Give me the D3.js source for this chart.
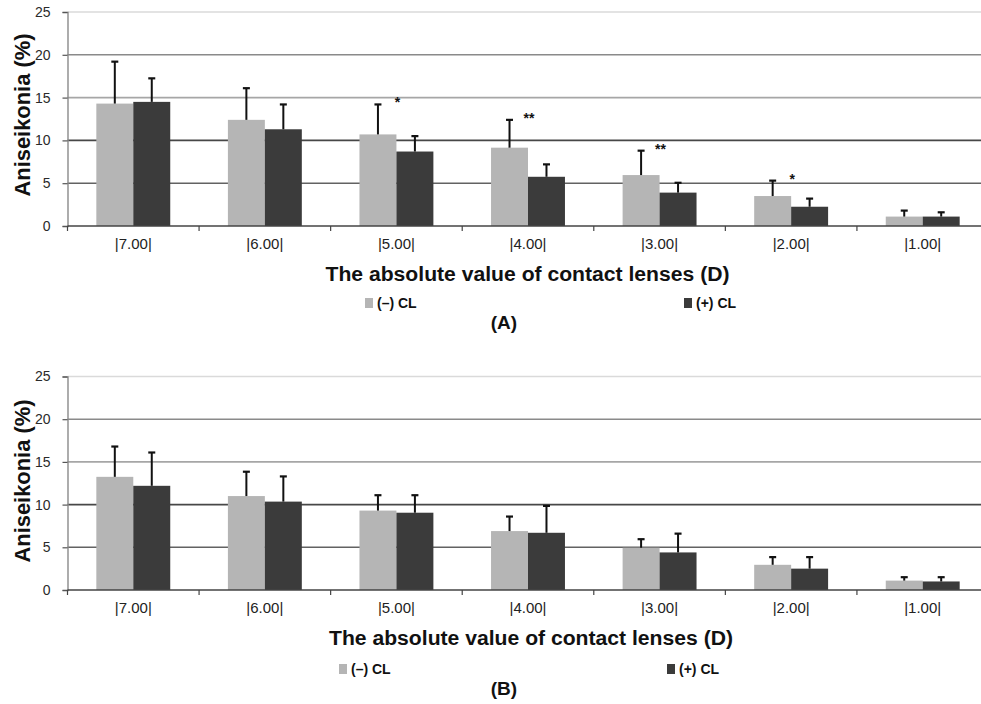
<!DOCTYPE html>
<html>
<head>
<meta charset="utf-8">
<script src="https://cdn.jsdelivr.net/npm/d3@7"></script>
<style>
  html, body { margin: 0; padding: 0; background: #fff; }
  svg { display: block; font-family: "Liberation Sans", Arial, sans-serif; }
</style>
</head>
<body>
<svg id="chart" width="981" height="704"></svg>
<script>
// ---------- data ----------
const categories = ["|7.00|", "|6.00|", "|5.00|", "|4.00|", "|3.00|", "|2.00|", "|1.00|"];
const seriesNames = ["(–) CL", "(+) CL"];
const yTicks = [0, 5, 10, 15, 20, 25];

// Panel A
const minusA   = [14.3, 12.4, 10.7, 9.15, 5.95, 3.5, 1.1];
const minusAsd = [4.9, 3.7, 3.5, 3.25, 2.85, 1.8, 0.7];
const plusA    = [14.5, 11.3, 8.7, 5.75, 3.9, 2.25, 1.1];
const plusAsd  = [2.75, 2.9, 1.8, 1.45, 1.15, 0.95, 0.5];
const sigA     = ["", "", "*", "**", "**", "*", ""];

// Panel B
const minusB   = [13.25, 11.0, 9.3, 6.9, 4.95, 2.95, 1.1];
const minusBsd = [3.55, 2.85, 1.8, 1.7, 1.0, 0.9, 0.4];
const plusB    = [12.2, 10.35, 9.05, 6.7, 4.4, 2.5, 1.0];
const plusBsd  = [3.9, 2.95, 2.05, 3.15, 2.2, 1.35, 0.5];
const sigB     = ["", "", "", "", "", "", ""];

const xTitle = "The absolute value of contact lenses (D)";
const yTitle = "Aniseikonia (%)";

// ---------- styles ----------
const colors = ["#b5b5b5", "#3b3b3b"];
const gridColor = {5: "#626262", 10: "#474747", 15: "#a6a6a6", 20: "#8a8a8a", 25: "#dadada"};

const svg = d3.select("#chart");

const x = d3.scaleBand().domain(categories).range([67.5, 988.5]).padding(0);
const xs = d3.scaleBand().domain(seriesNames).range([0, x.bandwidth()]).paddingInner(0).paddingOuter(0.78);

function drawPanel(cfg) {
  const y = d3.scaleLinear().domain([0, 25]).range([cfg.y0, cfg.y25]);
  const g = svg.append("g");

  // gridlines
  g.selectAll("line.grid").data(yTicks.filter(t => t > 0)).join("line")
    .attr("x1", 67.5).attr("x2", 981)
    .attr("y1", d => y(d)).attr("y2", d => y(d))
    .attr("stroke", d => gridColor[d]).attr("stroke-width", 1.6);

  // y axis
  const ya = g.append("g").attr("transform", "translate(67.5,0)")
    .call(d3.axisLeft(y).tickValues(yTicks).tickSize(5).tickPadding(12));
  ya.select(".domain").attr("stroke", "#8a8a8a").attr("stroke-width", 1.4);
  ya.selectAll(".tick line").attr("stroke", "#555").attr("stroke-width", 1.2);
  ya.selectAll(".tick text").attr("font-size", 14).attr("fill", "#2a2a2a")
    .attr("font-family", "'Liberation Sans', Arial, sans-serif");

  // bars
  const series = [
    {name: seriesNames[0], vals: cfg.minus, sd: cfg.minusSd, color: colors[0]},
    {name: seriesNames[1], vals: cfg.plus, sd: cfg.plusSd, color: colors[1]}
  ];
  series.forEach(s => {
    const recs = categories.map((c, i) => ({c, v: s.vals[i], sd: s.sd[i]}));
    g.selectAll(null).data(recs).join("rect")
      .attr("x", d => x(d.c) + xs(s.name))
      .attr("y", d => y(d.v))
      .attr("width", xs.bandwidth())
      .attr("height", d => y(0) - y(d.v))
      .attr("fill", s.color);
    // error bars
    const cx = d => x(d.c) + xs(s.name) + xs.bandwidth() / 2;
    g.selectAll(null).data(recs).join("line")
      .attr("x1", cx).attr("x2", cx)
      .attr("y1", d => y(d.v)).attr("y2", d => y(d.v + d.sd))
      .attr("stroke", "#111").attr("stroke-width", 2);
    g.selectAll(null).data(recs).join("line")
      .attr("x1", d => cx(d) - 3.5).attr("x2", d => cx(d) + 3.5)
      .attr("y1", d => y(d.v + d.sd)).attr("y2", d => y(d.v + d.sd))
      .attr("stroke", "#111").attr("stroke-width", 2.2);
  });

  // significance marks
  const sigRecs = categories.map((c, i) => ({c, s: cfg.sig[i],
    top: Math.max(cfg.minus[i] + cfg.minusSd[i], cfg.plus[i] + cfg.plusSd[i])}));
  g.selectAll(null).data(sigRecs.filter(d => d.s)).join("text")
    .attr("x", d => x(d.c) + x.bandwidth() / 2 + 1)
    .attr("y", d => y(d.top) + 3)
    .attr("text-anchor", "middle").attr("font-size", 14).attr("font-weight", "bold")
    .attr("fill", "#111").text(d => d.s);

  // x axis
  g.append("line").attr("x1", 67.5).attr("x2", 981)
    .attr("y1", y(0)).attr("y2", y(0)).attr("stroke", "#444").attr("stroke-width", 1.4);
  const bounds = categories.map(c => x(c));
  g.selectAll(null).data(bounds).join("line")
    .attr("x1", d => d).attr("x2", d => d)
    .attr("y1", y(0)).attr("y2", y(0) + 5)
    .attr("stroke", "#444").attr("stroke-width", 1.2);
  const xa = g.append("g").attr("transform", `translate(0,${y(0)})`)
    .call(d3.axisBottom(x).tickSize(0).tickPadding(12.5));
  xa.select(".domain").remove();
  xa.selectAll(".tick text").attr("font-size", 15).attr("fill", "#222")
    .attr("font-family", "'Liberation Sans', Arial, sans-serif");

  // axis titles
  g.append("text").attr("x", cfg.titleX).attr("y", cfg.titleY)
    .attr("text-anchor", "middle").attr("font-size", 20).attr("font-weight", "bold")
    .attr("fill", "#111").attr("textLength", 404).attr("lengthAdjust", "spacingAndGlyphs")
    .text(xTitle);
  g.append("text")
    .attr("transform", `translate(30,${cfg.yTitleY}) rotate(-90)`)
    .attr("text-anchor", "middle").attr("font-size", 22).attr("font-weight", "bold")
    .attr("fill", "#111").attr("textLength", 163).attr("lengthAdjust", "spacingAndGlyphs")
    .text(yTitle);

  // legend
  series.forEach((s, i) => {
    g.append("rect").attr("x", cfg.legX[i]).attr("y", cfg.legY - 10)
      .attr("width", 8).attr("height", 10).attr("fill", s.color);
    g.append("text").attr("x", cfg.legX[i] + 12).attr("y", cfg.legY)
      .attr("font-size", 14).attr("font-weight", "bold").attr("fill", "#111")
      .text(s.name);
  });

  // panel label
  g.append("text").attr("x", 504).attr("y", cfg.labelY)
    .attr("text-anchor", "middle").attr("font-size", 19).attr("font-weight", "bold")
    .attr("fill", "#111").text(cfg.label);
}

drawPanel({y0: 226, y25: 12, minus: minusA, minusSd: minusAsd, plus: plusA, plusSd: plusAsd,
  sig: sigA, titleX: 527.5, titleY: 281, yTitleY: 115, legX: [365, 684], legY: 308,
  labelY: 329, label: "(A)"});
drawPanel({y0: 590, y25: 376.5, minus: minusB, minusSd: minusBsd, plus: plusB, plusSd: plusBsd,
  sig: sigB, titleX: 531, titleY: 645, yTitleY: 481, legX: [339, 667], legY: 674,
  labelY: 695, label: "(B)"});
</script>
</body>
</html>
